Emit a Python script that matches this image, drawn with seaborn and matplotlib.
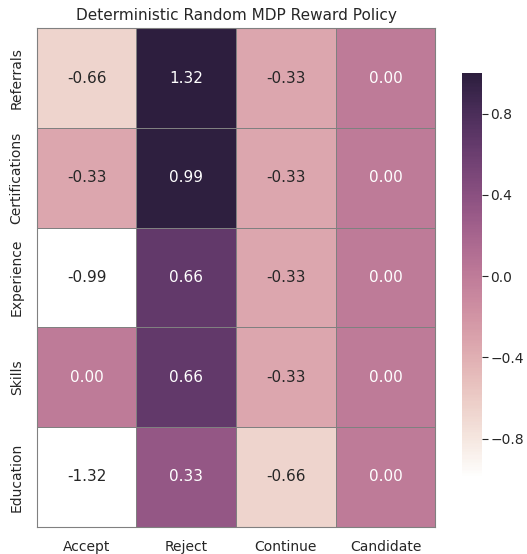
import numpy as np
import pandas as pd
import matplotlib
matplotlib.use("Agg")
import matplotlib.pyplot as plt
import seaborn as sns

states = ["Referrals", "Certifications", "Experience", "Skills", "Education"]
actions = ["Accept", "Reject", "Continue", "Candidate"]

accept = [-0.66, -0.33, -0.99, 0.00, -1.32]
reject = [1.32, 0.99, 0.66, 0.66, 0.33]
cont = [-0.33, -0.33, -0.33, -0.33, -0.66]
candidate = [0.00, 0.00, 0.00, 0.00, 0.00]

df = pd.DataFrame({"Accept": accept, "Reject": reject,
                   "Continue": cont, "Candidate": candidate}, index=states)[actions]

sns.set_theme(style="white")

fig = plt.figure(figsize=(5.27, 5.54), dpi=100)
ax = fig.add_axes([0.070, 0.049, 0.756, 0.900])
cax = fig.add_axes([0.877, 0.135, 0.038, 0.733])

cmap = sns.cubehelix_palette(light=1, as_cmap=True)
sns.heatmap(df, ax=ax, cbar_ax=cax, cmap=cmap, vmin=-1, vmax=1,
            annot=True, fmt=".2f", linewidths=0.6, linecolor="gray",
            annot_kws={"fontsize": 11})

# grey frame around the grid so light cells keep a visible edge
for side in ["left", "right", "top", "bottom"]:
    ax.spines[side].set_visible(True)
    ax.spines[side].set_color("gray")
    ax.spines[side].set_linewidth(0.8)

ax.set_title("Deterministic Random MDP Reward Policy", fontsize=11)
ax.set_xticklabels(actions, fontsize=10)
ax.set_yticklabels(states, rotation=90, va="center", fontsize=10)
cax.set_yticks([-0.8, -0.4, 0.0, 0.4, 0.8])
cax.tick_params(labelsize=10, length=4, width=0.8, pad=2, color="0.15")

fig.savefig("out.png", dpi=100)
